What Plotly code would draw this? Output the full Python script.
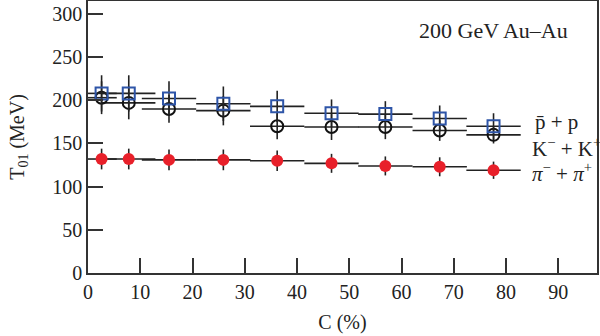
import plotly.graph_objects as go

# centrality positions as drawn (%)
x_c = [2.6, 7.8, 15.5, 25.9, 36.2, 46.6, 56.9, 67.3, 77.6]
x_err = [2.9, 5.1, 5.2, 5.2, 5.2, 5.2, 5.2, 5.2, 5.2]

proton = [208, 208, 202, 196, 193, 185, 184, 179, 170]
proton_err = [21, 21, 20, 20, 18, 16, 15, 15, 15]
kaon = [203, 197, 190, 188, 170, 169, 169, 165, 160]
kaon_err = [19, 19, 16, 17, 15, 15, 14, 12, 10]
pion = [132, 132, 131, 131, 130, 127, 124, 123, 119]
pion_err = [12, 12, 12, 12, 12, 11, 11, 11, 10]

x_ticks = [0, 10, 20, 30, 40, 50, 60, 70, 80, 90]
y_ticks = [0, 50, 100, 150, 200, 250, 300]

serif = "Liberation Serif"
txt = "#222"
fig = go.Figure()

def add(y, yerr, marker):
    fig.add_trace(go.Scatter(
        x=x_c, y=y, mode="markers",
        error_x=dict(type="data", array=x_err, width=0, thickness=1.6, color="#222"),
        error_y=dict(type="data", array=yerr, width=0, thickness=1.6, color="#222"),
        marker=marker, showlegend=False, cliponaxis=True))

add(pion, pion_err, dict(symbol="circle", size=12, color="#e8202a", line=dict(width=0)))
add(kaon, kaon_err, dict(symbol="circle-open", size=12, color="#111", line=dict(width=2)))
add(proton, proton_err, dict(symbol="square-open", size=12, color="#2e55a8", line=dict(width=2)))

axis_common = dict(showline=True, linecolor="#333", linewidth=1.5, mirror=True,
                   ticks="inside", ticklen=15, tickwidth=1.5, tickcolor="#333",
                   showgrid=False, zeroline=False, automargin=False,
                   tickfont=dict(family=serif, size=20, color=txt))

fig.update_layout(
    width=600, height=336,
    margin=dict(l=88, r=3, t=1, b=63, autoexpand=False),
    plot_bgcolor="white", paper_bgcolor="white",
    xaxis=dict(range=[0, 97.4], tickvals=x_ticks,
               title=dict(text="C (%)", font=dict(family=serif, size=20, color=txt), standoff=13),
               **axis_common),
    yaxis=dict(range=[0, 315], tickvals=y_ticks,
               title=dict(text="T<sub>01</sub> (MeV)", font=dict(family=serif, size=20, color=txt), standoff=22),
               **axis_common),
    annotations=[
        dict(text="200 GeV Au\u2013Au", xref="paper", yref="paper", x=0.646, y=0.893,
             xanchor="left", yanchor="middle", showarrow=False,
             font=dict(family=serif, size=22, color=txt)),
        dict(text="p\u0304 + p", xref="paper", yref="paper", x=0.874, y=0.555,
             xanchor="left", yanchor="middle", showarrow=False,
             font=dict(family=serif, size=21, color=txt)),
        dict(text="K<sup>\u2212</sup> + K<sup>+</sup>", xref="paper", yref="paper", x=0.868, y=0.463,
             xanchor="left", yanchor="middle", showarrow=False,
             font=dict(family=serif, size=21, color=txt)),
        dict(text="<i>\u03c0</i><sup>\u2212</sup> + <i>\u03c0</i><sup>+</sup>", xref="paper", yref="paper",
             x=0.868, y=0.371, xanchor="left", yanchor="middle", showarrow=False,
             font=dict(family=serif, size=21, color=txt)),
    ],
)

fig.write_html("out.html", config={"displayModeBar": False},
               post_script="document.body.style.margin='0';document.body.style.padding='0';")
